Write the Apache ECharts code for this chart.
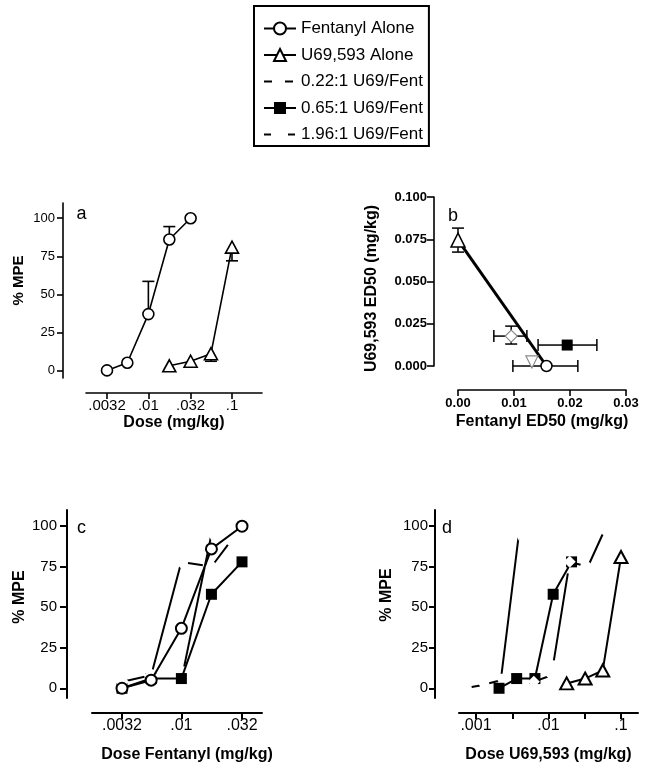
<!DOCTYPE html>
<html><head><meta charset="utf-8">
<script src="https://cdn.jsdelivr.net/npm/echarts@6/dist/echarts.min.js"></script>
<style>html,body{margin:0;padding:0;background:#fff}#chart{width:649px;height:772px}</style>
</head><body><div id="chart"></div>
<script>
// ---------------- data ----------------
const fentanylDoses = [0.0032, 0.0056, 0.01, 0.0178, 0.032];
const fentanylAlone = [0, 5, 37, 86, 100];
const fentanylAloneSEM = [0, 0, 21.5, 8.5, 0];
const u69Doses = [0.0178, 0.032, 0.056, 0.1];
const u69Alone = [3, 6, 11, 81];
const u69AloneSEM = [0, 0, 5, 9];
// combination curves (y = % MPE, at the fentanyl doses above)
const mix022 = [0, 2, 5, 95, 100];
const mix065 = [0, 6, 6, 58, 78];
const mix196 = [4, 8, 78, 75, 100];
// U69,593 dose contained in each combination dose (panel d)
const u69DosesMix022 = [0.0007, 0.00123, 0.0022, 0.0039, 0.007];
const u69DosesMix065 = [0.00208, 0.00364, 0.0065, 0.0116, 0.0208];
const u69DosesMix196 = [0.00627, 0.011, 0.0196, 0.0349, 0.0627];
// panel b: ED50 values (mg/kg)
const ed50Groups = ['U69,593 Alone', 'Fentanyl Alone', '0.22:1 U69/Fent', '0.65:1 U69/Fent', '1.96:1 U69/Fent'];
const ed50Fentanyl = [0, 0.0158, 0.0132, 0.0195, 0.0095];
const ed50FentanylLow = [null, 0.0098, null, 0.0143, 0.0064];
const ed50FentanylHigh = [null, 0.0214, null, 0.0248, 0.0123];
const ed50U69 = [0.0745, 0, 0.0024, 0.0124, 0.0177];
const ed50U69Low = [0.0674, null, null, null, 0.013];
const ed50U69High = [0.0816, null, null, null, 0.0236];
// tick labels
const pctTicks = [0, 25, 50, 75, 100];
const doseTicksA = [0.0032, 0.01, 0.032, 0.1];
const doseLabelsA = ['.0032', '.01', '.032', '.1'];
const doseTicksC = [0.0032, 0.01, 0.032];
const doseLabelsC = ['.0032', '.01', '.032'];
const doseTicksD = [0.001, 0.0032, 0.01, 0.032, 0.1];
const doseLabelValuesD = [0.001, 0.01, 0.1];
const doseLabelsD = ['.001', '.01', '.1'];
// ---------------------------------------------------------------------

const FONT = "'Liberation Sans', Arial, Helvetica, sans-serif";
const N_F = 'Fentanyl Alone', N_U = 'U69,593 Alone', N_22 = '0.22:1 U69/Fent', N_65 = '0.65:1 U69/Fent', N_96 = '1.96:1 U69/Fent';
const zip = (xs, ys) => xs.map((x, i) => [x, ys[i]]);
const labelOf = (vals, labels) => v => {
  for (let i = 0; i < vals.length; i++) if (Math.abs(v / vals[i] - 1) < 0.02) return labels[i];
  return '';
};

function renderErr(cap, lw) {
  return function (params, api) {
    const p0 = api.coord([api.value(0), api.value(1)]);
    const p1 = api.coord([api.value(2), api.value(3)]);
    const vertical = Math.abs(p0[0] - p1[0]) < Math.abs(p0[1] - p1[1]);
    const h = cap / 2;
    const capShape = vertical ? { x1: p1[0] - h, y1: p1[1], x2: p1[0] + h, y2: p1[1] }
                              : { x1: p1[0], y1: p1[1] - h, x2: p1[0], y2: p1[1] + h };
    return { type: 'group', children: [
      { type: 'line', shape: { x1: p0[0], y1: p0[1], x2: p1[0], y2: p1[1] }, style: { stroke: '#000', lineWidth: lw } },
      { type: 'line', shape: capShape, style: { stroke: '#000', lineWidth: lw } }
    ] };
  };
}

// error segments panel a
const errA = [];
fentanylDoses.forEach((d, i) => { if (fentanylAloneSEM[i] > 0) errA.push([d, fentanylAlone[i], d, fentanylAlone[i] + fentanylAloneSEM[i]]); });
u69Doses.forEach((d, i) => { if (u69AloneSEM[i] > 0) errA.push([d, u69Alone[i], d, u69Alone[i] - u69AloneSEM[i]]); });
// error segments panel b
const errB = [];
ed50Groups.forEach((g, i) => {
  const x = ed50Fentanyl[i], y = ed50U69[i];
  if (ed50FentanylLow[i] != null) errB.push([x, y, ed50FentanylLow[i], y]);
  if (ed50FentanylHigh[i] != null) errB.push([x, y, ed50FentanylHigh[i], y]);
  if (ed50U69Low[i] != null) errB.push([x, y, x, ed50U69Low[i]]);
  if (ed50U69High[i] != null) errB.push([x, y, x, ed50U69High[i]]);
});
const additivityLine = [[ed50Fentanyl[0], ed50U69[0]], [ed50Fentanyl[1], ed50U69[1]]];

function pctAxis(gridIndex, min, offset, fontSize, margin, tickLen, nameGap, namePad, lw, nameSize) {
  return {
    type: 'value', gridIndex, min, max: 110, offset,
    name: '% MPE', nameLocation: 'middle', nameRotate: 90, nameGap, nameMoveOverlap: false,
    nameTextStyle: { fontFamily: FONT, fontSize: nameSize, fontWeight: 'bold', color: '#000', padding: namePad },
    axisLine: { show: true, onZero: false, lineStyle: { color: '#000', width: lw } },
    axisTick: { show: true, length: tickLen, customValues: pctTicks, lineStyle: { color: '#000', width: lw } },
    axisLabel: { customValues: pctTicks, margin, fontFamily: FONT, fontSize, color: '#000' },
    splitLine: { show: false }
  };
}
function doseAxis(gridIndex, min, max, ticks, labelVals, labels, name, nameGap, namePad, fontSize, margin, lw) {
  return {
    type: 'log', logBase: 10, gridIndex, min, max, offset: 15,
    name, nameLocation: 'middle', nameGap, nameMoveOverlap: false,
    nameTextStyle: { fontFamily: FONT, fontSize: 16, fontWeight: 'bold', color: '#000', padding: namePad },
    axisLine: { show: true, onZero: false, lineStyle: { color: '#000', width: lw } },
    axisTick: { show: true, length: 6, customValues: ticks, lineStyle: { color: '#000', width: lw } },
    axisLabel: { customValues: labelVals, formatter: labelOf(labelVals, labels), margin, fontFamily: FONT, fontSize, color: '#000' },
    splitLine: { show: false }, minorTick: { show: false }
  };
}

const base = { animation: false, silent: true, emphasis: { disabled: true } };
const openStyle = (bw) => ({ color: '#fff', borderColor: '#000', borderWidth: bw });
const hiddenStyle = { color: '#fff', borderWidth: 0 };

function lineSeries(name, xi, data, symbol, size, itemStyle, lw, dash, z, rotate) {
  return Object.assign({}, base, {
    type: 'line', name, xAxisIndex: xi, yAxisIndex: xi, data, symbol, symbolSize: size,
    symbolRotate: rotate || 0, showSymbol: true, itemStyle,
    lineStyle: { color: '#000', width: lw, type: dash || 'solid' }, z
  });
}

const dashC022 = [0, 74, 134, 300];
const dashC196 = [0, 5, 18, 13, 110, 8, 15, 14, 22, 300];
const dashD022 = [0, 7, 10, 8, 159, 300];
const dashD196 = [0, 4, 12, 18, 88, 15, 8, 10, 33, 300];

const series = [
  // panel c (x = fentanyl dose)
  lineSeries(N_22, 2, zip(fentanylDoses, mix022), 'triangle', 13, hiddenStyle, 2, dashC022, 3, 180),
  lineSeries(N_65, 2, zip(fentanylDoses, mix065), 'rect', 11, { color: '#000' }, 2, null, 4),
  lineSeries(N_96, 2, zip(fentanylDoses, mix196), 'diamond', 14, hiddenStyle, 2, dashC196, 5),
  lineSeries(N_F, 2, zip(fentanylDoses, fentanylAlone), 'circle', 11, openStyle(2), 2, null, 6),
  // panel a
  lineSeries(N_U, 0, zip(u69Doses, u69Alone), 'triangle', [13, 12], openStyle(1.6), 1.6, null, 7),
  lineSeries(N_F, 0, zip(fentanylDoses, fentanylAlone), 'circle', 11, openStyle(1.6), 1.6, null, 6),
  Object.assign({}, base, { type: 'custom', xAxisIndex: 0, yAxisIndex: 0, data: errA, renderItem: renderErr(12, 1.6), z: 2 }),
  // panel d (x = U69,593 dose)
  lineSeries(N_22, 3, zip(u69DosesMix022, mix022), 'triangle', 13, hiddenStyle, 2, dashD022, 3, 180),
  lineSeries(N_65, 3, zip(u69DosesMix065, mix065), 'rect', 11, { color: '#000' }, 2, null, 4),
  lineSeries(N_96, 3, zip(u69DosesMix196, mix196), 'diamond', 12, hiddenStyle, 2, dashD196, 5),
  lineSeries(N_U, 3, zip(u69Doses, u69Alone), 'triangle', [13, 12], openStyle(2), 2, null, 7),
  // panel b
  Object.assign({}, base, { type: 'line', xAxisIndex: 1, yAxisIndex: 1, data: additivityLine, symbol: 'none', lineStyle: { color: '#000', width: 3 }, z: 2 }),
  Object.assign({}, base, { type: 'custom', xAxisIndex: 1, yAxisIndex: 1, data: errB, renderItem: renderErr(12, 1.5), z: 3 })
];
const bStyles = [
  { symbol: 'triangle', size: 14, item: openStyle(1.5), rot: 0 },
  { symbol: 'circle', size: 11, item: openStyle(1.5), rot: 0 },
  { symbol: 'triangle', size: 12, item: { color: '#fff', borderColor: '#8a8a8a', borderWidth: 1.2 }, rot: 180 },
  { symbol: 'rect', size: 11, item: { color: '#000' }, rot: 0 },
  { symbol: 'diamond', size: 12, item: { color: '#fff', borderColor: '#8a8a8a', borderWidth: 1.2 }, rot: 0 }
];
ed50Groups.forEach((g, i) => {
  series.push(Object.assign({}, base, {
    type: 'scatter', name: g, xAxisIndex: 1, yAxisIndex: 1, data: [[ed50Fentanyl[i], ed50U69[i]]],
    symbol: bStyles[i].symbol, symbolSize: bStyles[i].size, symbolRotate: bStyles[i].rot,
    itemStyle: Object.assign({ opacity: 1 }, bStyles[i].item), z: 4 + (i === 1 ? 1 : 0)
  }));
});

const letter = (t, x, y) => ({ type: 'text', x, y, silent: true,
  style: { text: t, fill: '#000', font: '18px ' + FONT, align: 'center', verticalAlign: 'middle', textAlign: 'center', textVerticalAlign: 'middle' } });

const option = {
  backgroundColor: '#fff',
  animation: false,
  grid: [
    { left: 86, right: 387, top: 203, height: 175, outerBoundsMode: 'none', containLabel: false },
    { left: 458, right: 23, top: 197, height: 169, outerBoundsMode: 'none', containLabel: false },
    { left: 92, right: 387, top: 510, height: 188, outerBoundsMode: 'none', containLabel: false },
    { left: 459, right: 11, top: 510, height: 188, outerBoundsMode: 'none', containLabel: false }
  ],
  xAxis: [
    doseAxis(0, 0.001795, 0.2285, doseTicksA, doseTicksA, doseLabelsA, 'Dose (mg/kg)', 22, [0, 0, 0, 0], 15, 5, 1.6),
    {
      type: 'value', gridIndex: 1, min: 0, max: 0.03, interval: 0.01, offset: 24,
      name: 'Fentanyl ED50 (mg/kg)', nameLocation: 'middle', nameGap: 24, nameMoveOverlap: false,
      nameTextStyle: { fontFamily: FONT, fontSize: 16, fontWeight: 'bold', color: '#000' },
      axisLine: { show: true, onZero: false, lineStyle: { color: '#000', width: 1.6 } },
      axisTick: { show: true, length: 6, lineStyle: { color: '#000', width: 1.6 } },
      axisLabel: { formatter: v => v.toFixed(2), margin: 7, fontFamily: FONT, fontSize: 13, fontWeight: 'bold', color: '#000' },
      splitLine: { show: false }
    },
    doseAxis(2, 0.0018, 0.04696, doseTicksC, doseTicksC, doseLabelsC, 'Dose Fentanyl (mg/kg)', 34, [0, 0, 0, 20], 16, 5, 2),
    doseAxis(3, 0.000583, 0.1716, doseTicksD, doseLabelValuesD, doseLabelsD, 'Dose U69,593 (mg/kg)', 34, [0, 0, 0, 0], 16, 5, 2)
  ],
  yAxis: [
    pctAxis(0, -5, 23, 13, 8, 6, 37, [0, 0, 0, 20], 1.6, 15),
    {
      type: 'value', gridIndex: 1, min: 0, max: 0.1, interval: 0.025, offset: 24,
      name: 'U69,593 ED50 (mg/kg)', nameLocation: 'middle', nameRotate: 90, nameGap: 54, nameMoveOverlap: false,
      nameTextStyle: { fontFamily: FONT, fontSize: 16, fontWeight: 'bold', color: '#000', padding: [0, 14, 0, 0] },
      axisLine: { show: true, onZero: false, lineStyle: { color: '#000', width: 1.6 } },
      axisTick: { show: true, length: 7, lineStyle: { color: '#000', width: 1.6 } },
      axisLabel: { formatter: v => v.toFixed(3), margin: 7, fontFamily: FONT, fontSize: 13, fontWeight: 'bold', color: '#000' },
      splitLine: { show: false }
    },
    pctAxis(2, -6, 25, 15, 10, 7, 39, [0, 0, 0, 14], 2, 16),
    pctAxis(3, -6, 24, 15, 7, 6, 40, [0, 0, 0, 18], 2, 16)
  ],
  legend: {
    orient: 'vertical', left: 254, top: 6, padding: [14, 6, 3, 9],
    itemWidth: 32, itemHeight: 15, itemGap: 9.5, selectedMode: false,
    borderColor: '#000', borderWidth: 2, backgroundColor: '#fff',
    textStyle: { fontFamily: FONT, fontSize: 17, color: '#000' },
    data: [
      { name: N_F }, { name: N_U },
      { name: N_22, lineStyle: { type: [8, 13] } },
      { name: N_65 },
      { name: N_96, lineStyle: { type: [7, 17] } }
    ]
  },
  graphic: [letter('a', 81.5, 214.5), letter('b', 453, 216), letter('c', 81.5, 528), letter('d', 447, 528)],
  series
};

const chart = echarts.init(document.getElementById('chart'), null, { renderer: 'canvas' });
chart.setOption(option);
</script></body></html>
